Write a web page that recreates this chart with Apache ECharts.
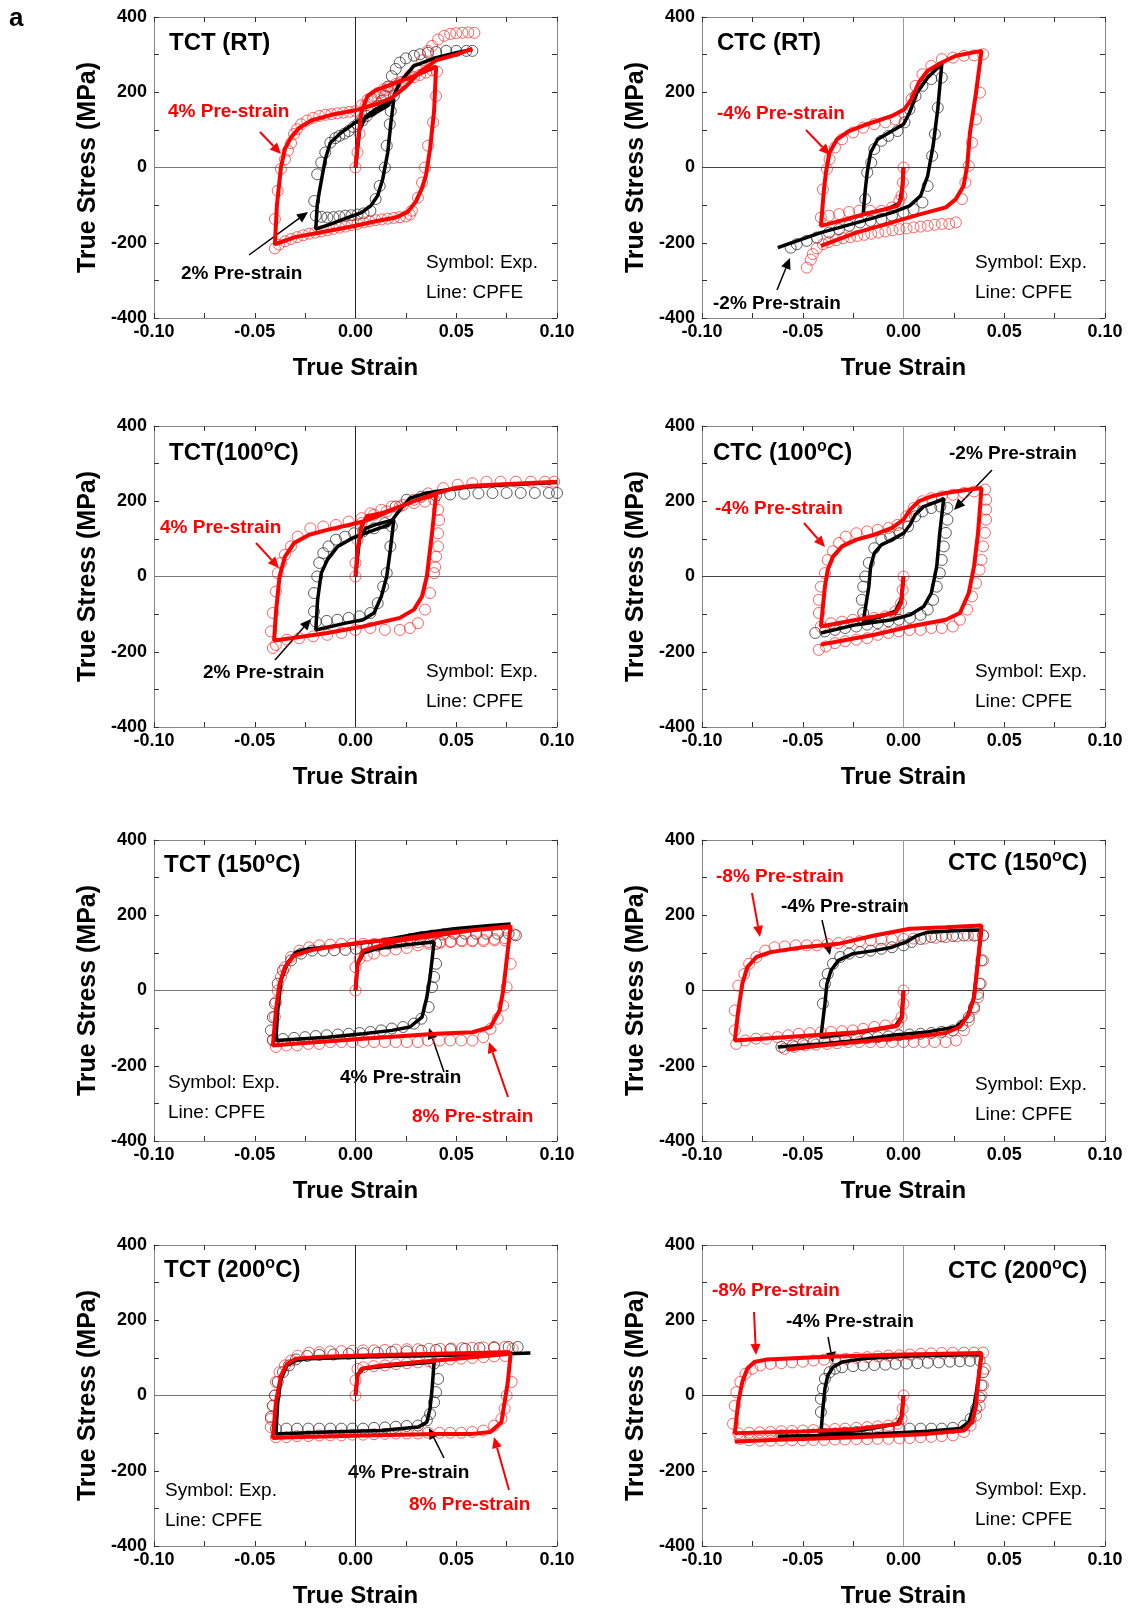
<!DOCTYPE html>
<html><head><meta charset="utf-8">
<script src="https://cdn.jsdelivr.net/npm/echarts@6/dist/echarts.min.js"></script>
<style>html,body{margin:0;padding:0;background:#fff}#c{width:1131px;height:1611px}</style>
</head><body><div id="c"></div>
<script>
// ---------- Axis ticks ----------
const strainTicks = [-0.10, -0.05, 0.00, 0.05, 0.10];
const stressTicks = [-400, -200, 0, 200, 400];

// ---------- Panel 1: TCT (RT) ----------
const cpfeRed1 = [[0,0],[0.001,60],[0.003,150],[0.006,190],[0.01,205],[0.02,225],[0.03,245],[0.04,268],[0.039,150],[0.037,50],[0.035,-20],[0.033,-55],[0.03,-90],[0.026,-118],[0.02,-133],[0.01,-143],[0,-155],[-0.015,-170],[-0.03,-185],[-0.04,-204],[-0.039,-100],[-0.037,0],[-0.035,50],[-0.032,80],[-0.028,105],[-0.022,125],[-0.012,140],[0,152],[0.01,168],[0.018,185],[0.025,215],[0.032,255],[0.04,285],[0.05,300],[0.058,315]];
const expRed1 = [[0,0],[0.001,40],[0.002,90],[0.003,130],[0.005,165],[0.008,185],[0.011,198],[0.014,208],[0.017,215],[0.02,222],[0.023,228],[0.026,235],[0.029,240],[0.032,246],[0.035,252],[0.038,258],[0.0405,255],[0.04,190],[0.0385,120],[0.036,58],[0.0345,0],[0.033,-40],[0.031,-80],[0.028,-115],[0.027,-125],[0.025,-130],[0.022,-132],[0.019,-134],[0.016,-136],[0.013,-138],[0.01,-140],[0.007,-143],[0.004,-146],[0.001,-150],[-0.002,-153],[-0.005,-157],[-0.008,-160],[-0.011,-163],[-0.014,-167],[-0.017,-170],[-0.02,-173],[-0.023,-176],[-0.026,-180],[-0.029,-185],[-0.032,-190],[-0.035,-196],[-0.038,-205],[-0.04,-215],[-0.04,-137],[-0.0386,-62],[-0.037,-4],[-0.035,22],[-0.0335,45],[-0.032,65],[-0.0305,89],[-0.029,102],[-0.027,115],[-0.024,125],[-0.021,132],[-0.018,137],[-0.015,140],[-0.012,142],[-0.009,144],[-0.006,146],[-0.003,148],[0,150],[0.003,165],[0.006,180],[0.009,190],[0.012,198],[0.015,205],[0.018,212],[0.021,218],[0.024,228],[0.027,245],[0.03,262],[0.033,285],[0.036,310],[0.038,323],[0.041,340],[0.044,350],[0.047,355],[0.05,357],[0.053,358],[0.056,359],[0.059,358]];
const cpfeBlack1 = [[0,0],[0.002,100],[0.005,135],[0.01,155],[0.015,170],[0.019,182],[0.0175,115],[0.016,40],[0.0135,-31],[0.011,-75],[0.0075,-102],[0.003,-120],[-0.005,-135],[-0.012,-150],[-0.0197,-164],[-0.019,-100],[-0.018,-66],[-0.015,22],[-0.0125,66],[-0.007,93],[0,120],[0.009,142],[0.016,164],[0.019,190],[0.022,226],[0.029,270],[0.04,292],[0.05,305],[0.058,314]];
const expBlack1 = [[0.019,190],[0.0175,150],[0.017,115],[0.0155,58],[0.0146,0],[0.012,-49],[0.01,-84],[0.0074,-115],[0.004,-122],[0.001,-125],[-0.002,-127],[-0.005,-128],[-0.008,-130],[-0.011,-132],[-0.014,-133],[-0.017,-131],[-0.0197,-128],[-0.0205,-89],[-0.019,-18],[-0.017,13],[-0.015,40],[-0.0125,66],[-0.01,78],[-0.008,84],[-0.0055,90],[-0.0034,97],[-0.001,108],[0.001,115],[0.0035,125],[0.0056,137],[0.008,150],[0.011,164],[0.013,177],[0.0146,190],[0.016,215],[0.018,243],[0.02,262],[0.022,279],[0.025,290],[0.029,297],[0.032,301],[0.036,305],[0.04,307],[0.045,310],[0.05,310],[0.055,310],[0.058,310]];

// ---------- Panel 2: CTC (RT) ----------
const cpfeRed2 = [[0,0],[-0.0005,-50],[-0.0012,-84],[-0.003,-102],[-0.01,-112],[-0.02,-125],[-0.03,-140],[-0.041,-155],[-0.0395,-60],[-0.0385,-13],[-0.0367,40],[-0.033,75],[-0.027,97],[-0.018,115],[-0.0057,137],[0.0005,155],[0.004,182],[0.0076,226],[0.012,257],[0.019,279],[0.026,297],[0.0387,310],[0.036,199],[0.033,93],[0.0316,4],[0.0298,-49],[0.026,-84],[0.021,-106],[0.0085,-124],[-0.0057,-146],[-0.0234,-173],[-0.041,-208]];
const expRed2 = [[0,0],[-0.0003,-40],[-0.001,-75],[-0.002,-88],[-0.0057,-106],[-0.011,-115],[-0.0165,-115],[-0.022,-115],[-0.027,-118],[-0.032,-124],[-0.037,-128],[-0.041,-133],[-0.04,-58],[-0.038,-4],[-0.0367,22],[-0.034,53],[-0.0305,75],[-0.025,93],[-0.02,106],[-0.0145,115],[-0.009,120],[-0.004,128],[0.0005,142],[0.004,182],[0.006,217],[0.0094,248],[0.0138,270],[0.019,288],[0.0245,292],[0.03,297],[0.035,298],[0.0395,301],[0.038,199],[0.036,128],[0.034,66],[0.0324,4],[0.0307,-40],[0.029,-84],[0.026,-146],[0.0227,-150],[0.019,-150],[0.0155,-152],[0.012,-155],[0.0085,-157],[0.005,-159],[0.0015,-162],[-0.002,-164],[-0.0055,-167],[-0.009,-170],[-0.0125,-173],[-0.016,-176],[-0.0195,-179],[-0.023,-182],[-0.0265,-185],[-0.03,-188],[-0.0335,-193],[-0.037,-198],[-0.04,-204],[-0.043,-215],[-0.045,-230],[-0.046,-245],[-0.048,-266]];
const cpfeBlack2 = [[0,0],[-0.0005,-50],[-0.002,-95],[-0.008,-110],[-0.015,-118],[-0.02,-124],[-0.019,-60],[-0.018,-13],[-0.0163,40],[-0.0128,75],[-0.0057,97],[0,115],[0.003,146],[0.0067,199],[0.012,239],[0.019,275],[0.017,155],[0.0147,58],[0.012,-22],[0.0085,-75],[0.003,-102],[-0.0057,-120],[-0.02,-142],[-0.041,-173],[-0.0624,-213]];
const expBlack2 = [[-0.019,-84],[-0.018,-13],[-0.016,13],[-0.0145,49],[-0.011,71],[-0.0075,84],[-0.003,97],[0.0005,120],[0.003,155],[0.006,190],[0.0094,217],[0.0138,235],[0.019,239],[0.017,159],[0.0156,89],[0.0142,31],[0.012,-49],[0.0094,-93],[0.005,-111],[0,-120],[-0.0057,-128],[-0.011,-137],[-0.0163,-142],[-0.0216,-146],[-0.027,-155],[-0.032,-164],[-0.037,-173],[-0.043,-186],[-0.048,-195],[-0.053,-204],[-0.056,-213]];

// ---------- Panel 3: TCT (100 C) ----------
const cpfeRed3 = [[0,0],[0.001,71],[0.003,133],[0.0056,160],[0.0128,168],[0.022,186],[0.031,204],[0.04,218],[0.038,116],[0.0354,0],[0.033,-53],[0.029,-88],[0.022,-110],[0.0038,-133],[-0.014,-150],[-0.032,-164],[-0.0404,-170],[-0.0395,-97],[-0.0377,0],[-0.035,53],[-0.0305,89],[-0.023,111],[-0.014,124],[-0.0034,137],[0.0038,146],[0.0128,164],[0.022,186],[0.031,204],[0.04,221],[0.049,235],[0.058,241],[0.076,246],[0.1,252]];
const expRed3 = [[0,0],[0,36],[0.001,98],[0.003,142],[0.0074,168],[0.0128,177],[0.018,186],[0.0236,190],[0.029,195],[0.0345,199],[0.039,204],[0.041,177],[0.0415,150],[0.041,115],[0.041,80],[0.04,53],[0.0395,25],[0.039,9],[0.037,-44],[0.0345,-88],[0.031,-124],[0.027,-137],[0.022,-142],[0.0146,-142],[0.0074,-137],[0,-142],[-0.007,-150],[-0.014,-155],[-0.021,-159],[-0.028,-164],[-0.034,-168],[-0.0395,-182],[-0.041,-190],[-0.042,-146],[-0.041,-97],[-0.0395,-40],[-0.0386,9],[-0.037,36],[-0.035,58],[-0.032,80],[-0.0287,106],[-0.0224,128],[-0.016,133],[-0.0097,137],[-0.0034,146],[0.003,155],[0.0092,164],[0.0155,173],[0.022,186],[0.029,204],[0.036,221],[0.0435,235],[0.0507,244],[0.058,248],[0.065,252],[0.072,252],[0.0796,252],[0.087,252],[0.094,252],[0.0986,252]];
const cpfeBlack3 = [[0,0],[0.002,100],[0.005,128],[0.01,138],[0.019,151],[0.0173,71],[0.0155,0],[0.0128,-53],[0.0092,-97],[0.0038,-115],[-0.005,-124],[-0.0197,-142],[-0.0188,-62],[-0.017,9],[-0.014,44],[-0.0088,80],[-0.0016,102],[0.0074,120],[0.0164,137],[0.022,177],[0.027,208],[0.0345,221],[0.045,230],[0.058,239],[0.076,244],[0.1,250]];
const expBlack3 = [[0.018,133],[0.0173,80],[0.0155,9],[0.0137,-27],[0.011,-71],[0.0074,-97],[0.002,-106],[-0.0034,-110],[-0.009,-115],[-0.0143,-118],[-0.0197,-120],[-0.0206,-93],[-0.0206,-44],[-0.019,0],[-0.018,36],[-0.016,62],[-0.0134,80],[-0.0097,98],[-0.0052,106],[-0.0007,115],[0.0038,120],[0.0092,128],[0.0146,142],[0.02,186],[0.0254,204],[0.0327,212],[0.04,215],[0.047,218],[0.054,220],[0.061,221],[0.068,222],[0.075,222],[0.082,222],[0.089,222],[0.096,222],[0.1,222]];

// ---------- Panel 4: CTC (100 C) ----------
const cpfeRed4 = [[0,0],[-0.0012,-71],[-0.004,-97],[-0.0234,-115],[-0.041,-133],[-0.039,-27],[-0.0376,18],[-0.035,53],[-0.0305,80],[-0.0234,98],[-0.0145,111],[-0.0057,129],[0,151],[0.0032,177],[0.0076,200],[0.0138,213],[0.021,222],[0.03,229],[0.0387,235],[0.037,116],[0.035,27],[0.0324,-44],[0.028,-97],[0.021,-115],[0.0032,-133],[-0.0145,-155],[-0.032,-172],[-0.041,-181]];
const expRed4 = [[0,0],[-0.0004,-35],[-0.0012,-71],[-0.004,-93],[-0.009,-106],[-0.0145,-110],[-0.02,-115],[-0.0252,-115],[-0.0305,-120],[-0.036,-124],[-0.041,-133],[-0.042,-97],[-0.042,-62],[-0.041,-27],[-0.039,9],[-0.0376,44],[-0.035,67],[-0.032,89],[-0.0287,106],[-0.0234,115],[-0.018,120],[-0.0128,124],[-0.0074,129],[-0.003,137],[0.0014,160],[0.005,182],[0.0094,200],[0.0138,208],[0.019,213],[0.0245,217],[0.03,222],[0.035,226],[0.0405,231],[0.041,204],[0.041,178],[0.041,151],[0.0404,116],[0.0395,80],[0.0387,44],[0.0378,18],[0.036,-18],[0.034,-53],[0.0316,-88],[0.028,-115],[0.0245,-133],[0.019,-137],[0.0138,-137],[0.0085,-142],[0.003,-142],[-0.0023,-146],[-0.0075,-150],[-0.0128,-155],[-0.018,-164],[-0.0234,-168],[-0.029,-172],[-0.034,-177],[-0.0385,-186],[-0.042,-195]];
const cpfeBlack4 = [[0,0],[-0.001,-60],[-0.004,-92],[-0.012,-108],[-0.02,-120],[-0.0172,-27],[-0.0163,27],[-0.0145,62],[-0.011,84],[-0.0057,98],[0,115],[0.0032,137],[0.0058,164],[0.01,186],[0.019,204],[0.02,208],[0.018,116],[0.0165,27],[0.0138,-44],[0.01,-80],[0.0032,-102],[-0.0057,-115],[-0.0234,-128],[-0.041,-150]];
const expBlack4 = [[-0.02,-97],[-0.0207,-62],[-0.02,-27],[-0.019,0],[-0.0172,36],[-0.0145,75],[-0.011,98],[-0.0066,106],[-0.002,115],[0.0023,133],[0.0058,160],[0.0094,173],[0.0138,182],[0.0183,186],[0.0218,182],[0.0218,151],[0.021,116],[0.02,80],[0.019,44],[0.018,9],[0.0165,-27],[0.0147,-62],[0.012,-88],[0.0085,-102],[0.0032,-110],[-0.0023,-115],[-0.0075,-119],[-0.0128,-124],[-0.018,-128],[-0.0234,-133],[-0.029,-137],[-0.034,-142],[-0.039,-146],[-0.0438,-150]];

// ---------- Panel 5: TCT (150 C) ----------
const cpfeRed5 = [[0,0],[0.001,71],[0.0038,106],[0.0128,120],[0.022,133],[0.04,146],[0.058,160],[0.076,168],[0.077,173],[0.075,80],[0.0733,0],[0.0715,-53],[0.067,-97],[0.058,-111],[0.04,-115],[0.0038,-128],[-0.032,-142],[-0.041,-146],[-0.0395,-53],[-0.0377,18],[-0.035,62],[-0.0305,93],[-0.023,106],[-0.014,115],[0.0038,128],[0.022,137],[0.04,151],[0.058,160],[0.076,170]];
const expRed5 = [[0,0],[0,62],[0.002,84],[0.0056,93],[0.0092,98],[0.0146,106],[0.02,109],[0.0255,113],[0.031,120],[0.0365,124],[0.042,127],[0.047,129],[0.0525,133],[0.058,133],[0.0635,135],[0.069,137],[0.0742,139],[0.0787,149],[0.077,71],[0.075,9],[0.0733,-40],[0.0706,-75],[0.067,-102],[0.0634,-124],[0.058,-133],[0.0525,-133],[0.047,-133],[0.0417,-133],[0.036,-133],[0.031,-137],[0.0255,-137],[0.02,-137],[0.0146,-137],[0.0092,-137],[0.0038,-137],[-0.0016,-137],[-0.007,-137],[-0.0125,-137],[-0.018,-142],[-0.0234,-142],[-0.029,-146],[-0.0343,-146],[-0.0395,-150],[-0.041,-133],[-0.04,-70],[-0.0395,-31],[-0.0386,0],[-0.037,36],[-0.035,62],[-0.032,89],[-0.0278,106],[-0.023,115],[-0.018,120],[-0.0125,122],[-0.007,124],[-0.0016,124],[0.0038,124],[0.0092,124],[0.0146,126],[0.02,126],[0.0255,127],[0.031,128],[0.0365,128],[0.042,129],[0.0475,130],[0.053,131],[0.058,131],[0.0635,131],[0.069,133],[0.0742,133]];
const cpfeBlack5 = [[0,0],[0.001,70],[0.004,100],[0.01,110],[0.02,118],[0.03,124],[0.039,129],[0.037,36],[0.0354,-18],[0.033,-71],[0.027,-97],[0.018,-106],[0.0038,-115],[-0.014,-124],[-0.0395,-133],[-0.0386,-53],[-0.037,27],[-0.034,71],[-0.0296,102],[-0.023,111],[-0.014,115],[0,124],[0.0128,133],[0.031,151],[0.049,164],[0.067,173],[0.077,177]];
const expBlack5 = [[0.04,124],[0.04,71],[0.039,36],[0.038,9],[0.0363,-44],[0.0327,-75],[0.029,-88],[0.0236,-97],[0.018,-101],[0.0128,-106],[0.0074,-110],[0.002,-113],[-0.0034,-115],[-0.0088,-117],[-0.0143,-119],[-0.0197,-121],[-0.025,-124],[-0.0305,-126],[-0.036,-129],[-0.041,-131],[-0.042,-106],[-0.041,-71],[-0.04,-35],[-0.0386,18],[-0.036,53],[-0.032,80],[-0.027,98],[-0.0215,106],[-0.016,106],[-0.0105,107],[-0.005,108],[0.0002,111],[0.0056,115],[0.011,119],[0.0164,124],[0.022,129],[0.0273,137],[0.0327,142],[0.038,146],[0.0435,149],[0.049,151],[0.0544,151],[0.06,151],[0.065,151],[0.0705,151],[0.076,151],[0.0796,147]];

// ---------- Panel 6: CTC (150 C) ----------
const cpfeRed6 = [[0,0],[-0.0007,-71],[-0.003,-93],[-0.0234,-111],[-0.059,-124],[-0.0837,-133],[-0.082,-53],[-0.08,18],[-0.0775,62],[-0.073,89],[-0.066,102],[-0.05,115],[-0.0323,124],[-0.0145,146],[0.0032,164],[0.021,168],[0.0387,173],[0.037,80],[0.035,-18],[0.0324,-62],[0.028,-97],[0.021,-113],[0.0032,-124],[-0.0234,-137],[-0.041,-146],[-0.058,-157]];
const expRed6 = [[0,0],[0,-35],[-0.001,-71],[-0.003,-88],[-0.009,-93],[-0.0145,-97],[-0.02,-102],[-0.0252,-106],[-0.0305,-108],[-0.036,-110],[-0.041,-111],[-0.0465,-113],[-0.052,-115],[-0.0572,-119],[-0.0625,-124],[-0.068,-128],[-0.0732,-128],[-0.0785,-133],[-0.083,-142],[-0.0837,-106],[-0.0837,-53],[-0.082,13],[-0.079,44],[-0.0766,71],[-0.073,89],[-0.0686,106],[-0.064,115],[-0.059,117],[-0.0535,120],[-0.048,120],[-0.043,120],[-0.0376,124],[-0.0323,126],[-0.027,128],[-0.0217,131],[-0.0163,133],[-0.011,135],[-0.0057,136],[0,137],[0.005,138],[0.0105,138],[0.016,140],[0.021,142],[0.0265,144],[0.032,146],[0.036,147],[0.0395,147],[0.0395,80],[0.0383,18],[0.037,-18],[0.035,-49],[0.0324,-80],[0.03,-106],[0.026,-133],[0.021,-137],[0.0155,-137],[0.01,-137],[0.005,-137],[0,-137],[-0.0055,-137],[-0.011,-137],[-0.0165,-137],[-0.022,-137],[-0.0275,-137],[-0.033,-140],[-0.038,-142],[-0.0435,-144],[-0.049,-146],[-0.054,-150],[-0.059,-155]];
const cpfeBlack6 = [[0,0],[-0.001,-70],[-0.004,-95],[-0.02,-110],[-0.041,-124],[-0.039,-35],[-0.038,18],[-0.036,53],[-0.0323,80],[-0.025,98],[-0.0145,106],[-0.0057,115],[0.0014,129],[0.0067,146],[0.012,155],[0.03,160],[0.0387,161],[0.037,80],[0.035,-18],[0.0316,-71],[0.026,-97],[0.012,-110],[-0.0057,-119],[-0.0234,-133],[-0.041,-142],[-0.0624,-150]];
const expBlack6 = [[-0.04,-35],[-0.039,18],[-0.0376,44],[-0.035,71],[-0.0314,89],[-0.027,98],[-0.0216,102],[-0.0163,106],[-0.011,111],[-0.0057,115],[0,120],[0.004,129],[0.0085,137],[0.0138,142],[0.019,144],[0.0245,145],[0.03,146],[0.035,146],[0.0395,146],[0.0387,80],[0.0378,18],[0.037,-9],[0.035,-44],[0.0324,-71],[0.029,-93],[0.0245,-106],[0.019,-110],[0.0138,-113],[0.0085,-115],[0.003,-117],[-0.0023,-119],[-0.0075,-122],[-0.0128,-124],[-0.018,-126],[-0.0234,-128],[-0.029,-131],[-0.034,-133],[-0.039,-135],[-0.0447,-138],[-0.05,-142],[-0.055,-146],[-0.0606,-150]];

// ---------- Panel 7: TCT (200 C) ----------
const cpfeRed7 = [[0,0],[0.001,53],[0.003,71],[0.0128,80],[0.031,89],[0.049,97],[0.067,106],[0.077,111],[0.0756,36],[0.074,-18],[0.0724,-71],[0.067,-97],[0.058,-102],[0.04,-102],[0.0038,-106],[-0.032,-111],[-0.041,-113],[-0.0395,-18],[-0.037,53],[-0.034,84],[-0.0296,98],[-0.0197,102],[0.0038,106],[0.04,111],[0.077,115]];
const expRed7 = [[0,0],[0,40],[0.001,71],[0.0038,75],[0.009,78],[0.0146,80],[0.02,83],[0.0255,86],[0.031,88],[0.0365,91],[0.042,93],[0.047,96],[0.0525,98],[0.058,100],[0.0635,102],[0.0688,104],[0.0742,105],[0.0775,36],[0.075,0],[0.074,-35],[0.0724,-62],[0.0688,-80],[0.0634,-93],[0.058,-97],[0.0525,-99],[0.047,-99],[0.0417,-99],[0.036,-99],[0.031,-101],[0.0255,-101],[0.02,-101],[0.0146,-102],[0.0092,-103],[0.0038,-104],[-0.0016,-104],[-0.007,-106],[-0.0125,-106],[-0.018,-106],[-0.0234,-108],[-0.029,-108],[-0.0343,-111],[-0.0395,-111],[-0.042,-84],[-0.042,-62],[-0.041,-27],[-0.04,0],[-0.0395,36],[-0.0377,62],[-0.035,80],[-0.032,93],[-0.0287,106],[-0.023,114],[-0.018,115],[-0.0125,117],[-0.007,118],[-0.0016,119],[0.0038,120],[0.0092,120],[0.0146,121],[0.02,122],[0.0255,123],[0.031,123],[0.0365,124],[0.042,124],[0.0475,125],[0.053,126],[0.058,127],[0.0635,128],[0.0688,129],[0.0742,129],[0.078,124]];
const cpfeBlack7 = [[0,0],[0.001,55],[0.004,72],[0.015,78],[0.03,85],[0.039,89],[0.038,18],[0.037,-35],[0.0354,-71],[0.031,-84],[0.0128,-93],[-0.014,-97],[-0.0395,-102],[-0.0386,-18],[-0.037,44],[-0.034,80],[-0.0296,93],[-0.023,98],[0.0038,102],[0.04,106],[0.076,111],[0.0868,113]];
const expBlack7 = [[0.039,85],[0.041,44],[0.04,9],[0.039,-18],[0.037,-49],[0.0354,-66],[0.031,-80],[0.0254,-81],[0.02,-83],[0.0146,-85],[0.0092,-86],[0.0038,-88],[-0.0016,-88],[-0.007,-88],[-0.0125,-88],[-0.018,-88],[-0.0234,-88],[-0.029,-88],[-0.0343,-88],[-0.0395,-88],[-0.042,-57],[-0.041,-27],[-0.04,0],[-0.0386,36],[-0.036,62],[-0.033,80],[-0.0296,96],[-0.024,105],[-0.018,108],[-0.011,109],[-0.0034,111],[0.0038,112],[0.011,114],[0.018,116],[0.0255,117],[0.0327,119],[0.04,121],[0.047,123],[0.0544,124],[0.0615,126],[0.0688,127],[0.076,129],[0.0805,129]];

// ---------- Panel 8: CTC (200 C) ----------
const cpfeRed8 = [[0,0],[-0.0007,-53],[-0.002,-75],[-0.0234,-89],[-0.05,-96],[-0.0837,-100],[-0.082,-18],[-0.08,36],[-0.0775,71],[-0.074,89],[-0.0677,96],[-0.041,102],[-0.0057,108],[0.0387,113],[0.037,36],[0.036,-27],[0.034,-71],[0.03,-93],[0.012,-102],[-0.0234,-111],[-0.059,-117],[-0.0837,-122]];
const expRed8 = [[0,0],[-0.0004,-35],[-0.001,-62],[-0.003,-75],[-0.0075,-80],[-0.0128,-82],[-0.018,-84],[-0.0234,-86],[-0.029,-88],[-0.034,-89],[-0.0394,-90],[-0.0447,-92],[-0.05,-93],[-0.0553,-94],[-0.0606,-95],[-0.066,-97],[-0.0713,-98],[-0.0766,-99],[-0.082,-100],[-0.0846,-75],[-0.0837,-27],[-0.083,9],[-0.081,36],[-0.0784,58],[-0.075,71],[-0.071,80],[-0.066,84],[-0.0606,86],[-0.0553,88],[-0.05,90],[-0.0447,93],[-0.0394,95],[-0.034,97],[-0.0287,98],[-0.0234,100],[-0.018,102],[-0.0128,104],[-0.0075,106],[-0.002,107],[0.0032,109],[0.0085,111],[0.0138,112],[0.019,113],[0.0245,114],[0.03,114],[0.035,114],[0.0395,114],[0.0404,71],[0.0395,27],[0.0387,0],[0.0378,-27],[0.036,-53],[0.0333,-80],[0.03,-97],[0.0245,-106],[0.019,-108],[0.0138,-110],[0.0085,-111],[0.003,-113],[-0.002,-114],[-0.0075,-115],[-0.0128,-115],[-0.018,-116],[-0.0234,-116],[-0.029,-117],[-0.034,-117],[-0.0394,-118],[-0.0447,-118],[-0.05,-119],[-0.0553,-119],[-0.0606,-119],[-0.066,-120],[-0.0713,-120],[-0.0766,-119],[-0.081,-115]];
const cpfeBlack8 = [[0,0],[-0.001,-55],[-0.003,-75],[-0.02,-92],[-0.041,-102],[-0.04,-35],[-0.039,18],[-0.0376,53],[-0.035,75],[-0.0305,89],[-0.02,98],[0.0032,105],[0.03,108],[0.0387,108],[0.037,36],[0.035,-27],[0.0324,-71],[0.028,-88],[0.012,-95],[-0.0145,-102],[-0.041,-106],[-0.0624,-108]];
const expBlack8 = [[-0.041,-44],[-0.041,-9],[-0.04,18],[-0.039,44],[-0.0367,62],[-0.034,71],[-0.0305,75],[-0.025,78],[-0.02,80],[-0.0145,81],[-0.009,82],[-0.004,84],[0.0015,85],[0.007,86],[0.012,87],[0.0175,88],[0.023,90],[0.028,91],[0.033,92],[0.0378,93],[0.0395,62],[0.0387,27],[0.0378,-5],[0.036,-35],[0.0333,-62],[0.03,-80],[0.0245,-86],[0.019,-88],[0.0138,-88],[0.0085,-88],[0.003,-88],[-0.002,-88],[-0.0075,-90],[-0.0128,-93],[-0.018,-95],[-0.0234,-97],[-0.029,-99],[-0.034,-101],[-0.0394,-102],[-0.0447,-104],[-0.05,-106],[-0.0553,-106],[-0.0606,-106]];

// ---------- Labels ----------
const panelTitles = ['{a|TCT (RT)}','{a|CTC (RT)}','{a|TCT(100}{s|o}{a|C)}','{a|CTC (100}{s|o}{a|C)}','{a|TCT (150}{s|o}{a|C)}','{a|CTC (150}{s|o}{a|C)}','{a|TCT (200}{s|o}{a|C)}','{a|CTC (200}{s|o}{a|C)}'];
const redLabels = ['4% Pre-strain','-4% Pre-strain','4% Pre-strain','-4% Pre-strain','8% Pre-strain','-8% Pre-strain','8% Pre-strain','-8% Pre-strain'];
const blackLabels = ['2% Pre-strain','-2% Pre-strain','2% Pre-strain','-2% Pre-strain','4% Pre-strain','-4% Pre-strain','4% Pre-strain','-4% Pre-strain'];
const xAxisTitle = 'True Strain';
const yAxisTitle = 'True Stress (MPa)';
const symbolNote = 'Symbol: Exp.';
const lineNote = 'Line: CPFE';

// ---------- Layout (positions / styles) ----------
const F = '"Liberation Sans", Arial, sans-serif';
const RED = '#ff0000';
const layout = [
  {l:154,t:17,w:403,h:301, zv:'#222', zh:'#777',
   title:[169,43], red:[168,112], black:[181,274], note:[426,263],
   redArrow:[260,132,281,154], blackArrow:[249,255,308,212]},
  {l:702,t:17,w:403,h:301, zv:'#999', zh:'#444',
   title:[717,43], red:[717,114], black:[713,304], note:[975,263],
   redArrow:[806,130,830,155], blackArrow:[777,290,790,258]},
  {l:154,t:426,w:403,h:301, zv:'#222', zh:'#777',
   title:[169,453], red:[160,528], black:[203,673], note:[426,672],
   redArrow:[256,543,279,568], blackArrow:[275,660,311,619]},
  {l:702,t:426,w:403,h:301, zv:'#999', zh:'#444',
   title:[713,453], red:[715,509], black:[949,454], note:[975,672],
   redArrow:[804,523,825,547], blackArrow:[992,470,954,510]},
  {l:154,t:840,w:403,h:301, zv:'#222', zh:'#777',
   title:[164,865], red:[412,1117], black:[340,1078], note:[168,1083],
   redArrow:[508,1097,489,1042], blackArrow:[444,1072,429,1028]},
  {l:702,t:840,w:403,h:301, zv:'#999', zh:'#444',
   title:[948,863], red:[716,877], black:[781,907], note:[975,1085],
   redArrow:[752,893,760,937], blackArrow:[822,920,830,955]},
  {l:154,t:1245,w:403,h:301, zv:'#222', zh:'#777',
   title:[164,1270], red:[409,1505], black:[348,1473], note:[165,1491],
   redArrow:[509,1490,494,1437], blackArrow:[444,1458,429,1428]},
  {l:702,t:1245,w:403,h:301, zv:'#999', zh:'#444',
   title:[948,1271], red:[712,1291], black:[786,1322], note:[975,1490],
   redArrow:[754,1312,756,1355], blackArrow:[828,1337,833,1363]}
];

const panelData = [
  [expBlack1, expRed1, cpfeBlack1, cpfeRed1],
  [expBlack2, expRed2, cpfeBlack2, cpfeRed2],
  [expBlack3, expRed3, cpfeBlack3, cpfeRed3],
  [expBlack4, expRed4, cpfeBlack4, cpfeRed4],
  [expBlack5, expRed5, cpfeBlack5, cpfeRed5],
  [expBlack6, expRed6, cpfeBlack6, cpfeRed6],
  [expBlack7, expRed7, cpfeBlack7, cpfeRed7],
  [expBlack8, expRed8, cpfeBlack8, cpfeRed8]
];

const grids = [], xAxes = [], yAxes = [], series = [], graphics = [];
const tickStyle = {color:'#333', width:1};
const frameStyle = {color:'#888', width:1};

function arrow(a, color, lw) {
  const [x1,y1,x2,y2] = a;
  const ang = Math.atan2(y2-y1, x2-x1);
  const L = 11, W = 5;
  const bx = x2 - L*Math.cos(ang), by = y2 - L*Math.sin(ang);
  const px = -Math.sin(ang)*W, py = Math.cos(ang)*W;
  graphics.push({type:'line', silent:true, shape:{x1:x1,y1:y1,x2:bx,y2:by}, style:{stroke:color, lineWidth:lw}});
  graphics.push({type:'polygon', silent:true, shape:{points:[[x2,y2],[bx+px,by+py],[bx-px,by-py]]}, style:{fill:color}});
}
function txt(text, pos, color, size, weight) {
  graphics.push({type:'text', silent:true, x:pos[0], y:pos[1],
    style:{text:text, fill:color, font: weight+' '+size+'px '+F, align:'left', verticalAlign:'middle'}});
}

layout.forEach((L, i) => {
  grids.push({left:L.l, top:L.t, width:L.w, height:L.h, containLabel:false});
  const axCommon = {type:'value', gridIndex:i, min:strainTicks[0], max:strainTicks[strainTicks.length-1], interval:strainTicks[1]-strainTicks[0],
    axisLine:{show:true, onZero:false, lineStyle:frameStyle},
    axisTick:{show:true, inside:true, length:5, lineStyle:tickStyle},
    minorTick:{show:true, splitNumber:2, length:5, lineStyle:tickStyle},
    splitLine:{show:false}, minorSplitLine:{show:false}};
  xAxes.push(Object.assign({}, axCommon, {position:'bottom',
    name:xAxisTitle, nameLocation:'middle', nameGap:38,
    nameTextStyle:{fontFamily:F, fontWeight:'bold', fontSize:24, color:'#000'},
    axisLabel:{show:true, margin:5, fontFamily:F, fontWeight:'bold', fontSize:18, color:'#000', formatter:v=>v.toFixed(2)}}));
  xAxes.push(Object.assign({}, axCommon, {position:'top', axisLabel:{show:false}}));
  const ayCommon = {type:'value', gridIndex:i, min:stressTicks[0], max:stressTicks[stressTicks.length-1], interval:stressTicks[1]-stressTicks[0],
    axisLine:{show:true, onZero:false, lineStyle:frameStyle},
    axisTick:{show:true, inside:true, length:5, lineStyle:tickStyle},
    minorTick:{show:true, splitNumber:2, length:5, lineStyle:tickStyle},
    splitLine:{show:false}, minorSplitLine:{show:false}};
  yAxes.push(Object.assign({}, ayCommon, {position:'left',
    name:yAxisTitle, nameLocation:'middle', nameGap:53, nameRotate:90,
    nameTextStyle:{fontFamily:F, fontWeight:'bold', fontSize:25, color:'#000'},
    axisLabel:{show:true, margin:7, fontFamily:F, fontWeight:'bold', fontSize:18, color:'#000'}}));
  yAxes.push(Object.assign({}, ayCommon, {position:'right', axisLabel:{show:false}}));

  const xi = 2*i, yi = 2*i;
  const [eB, eR, cB, cR] = panelData[i];
  series.push({type:'scatter', xAxisIndex:xi, yAxisIndex:yi, data:eB, symbol:'circle', symbolSize:11, z:2,
    itemStyle:{color:'rgba(0,0,0,0)', borderColor:'#333', borderWidth:1},
    markLine:{silent:true, symbol:'none', label:{show:false}, animation:false, z:1,
      data:[{xAxis:0, lineStyle:{color:L.zv, width:1, type:'solid'}}, {yAxis:0, lineStyle:{color:L.zh, width:1, type:'solid'}}]}});
  series.push({type:'scatter', xAxisIndex:xi, yAxisIndex:yi, data:eR, symbol:'circle', symbolSize:11, z:3,
    itemStyle:{color:'rgba(0,0,0,0)', borderColor:'rgba(255,30,30,0.85)', borderWidth:1}});
  series.push({type:'line', xAxisIndex:xi, yAxisIndex:yi, data:cB, showSymbol:false, symbol:'none', z:4,
    lineStyle:{color:'#000', width:3.5}});
  series.push({type:'line', xAxisIndex:xi, yAxisIndex:yi, data:cR, showSymbol:false, symbol:'none', z:5,
    lineStyle:{color:RED, width:4}});

  graphics.push({type:'text', silent:true, x:L.title[0], y:L.title[1],
    style:{text:panelTitles[i], align:'left', verticalAlign:'middle',
      rich:{a:{font:'bold 24px '+F, fill:'#000', lineHeight:28, verticalAlign:'middle'},
            s:{font:'bold 16px '+F, fill:'#000', lineHeight:16, verticalAlign:'top'}}}});
  txt(redLabels[i], L.red, RED, 19, 'bold');
  txt(blackLabels[i], L.black, '#000', 19, 'bold');
  txt(symbolNote, L.note, '#000', 19, 'normal');
  txt(lineNote, [L.note[0], L.note[1]+30], '#000', 19, 'normal');
  arrow(L.redArrow, RED, 2);
  arrow(L.blackArrow, '#000', 1.5);
});
graphics.push({type:'text', silent:true, x:9, y:19, style:{text:'a', fill:'#000', font:'bold 26px '+F, align:'left', verticalAlign:'middle'}});

const chart = echarts.init(document.getElementById('c'), null, {renderer:'canvas'});
chart.setOption({
  animation:false,
  backgroundColor:'#fff',
  grid:grids, xAxis:xAxes, yAxis:yAxes, series:series,
  graphic:graphics
});
</script></body></html>
